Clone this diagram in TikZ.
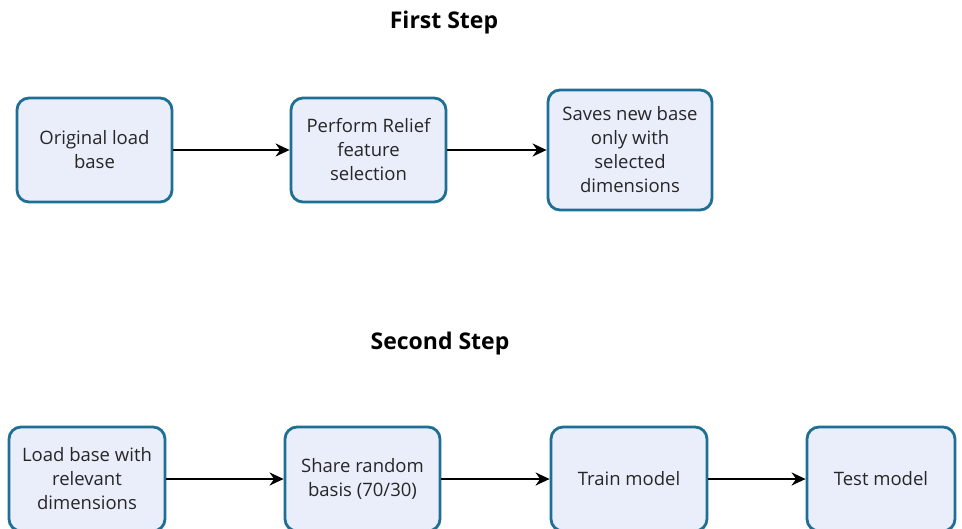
\documentclass[tikz,border=0pt]{standalone}
\usepackage{fontspec}
\setmainfont{Open Sans}
\usetikzlibrary{arrows.meta}
\definecolor{boxfill}{HTML}{EAEEFB}
\definecolor{boxline}{HTML}{1F6E94}
\tikzset{
  stepbox/.style={draw=boxline, fill=boxfill, line width=2.8pt, rounded corners=12pt,
    align=center, font=\fontsize{18.5}{24}\selectfont, inner sep=0pt, text=black!85},
  flow/.style={line width=1.9pt, -{Stealth[length=14pt,width=13pt,inset=4.5pt]}},
  heading/.style={font=\fontsize{23}{26}\selectfont\bfseries}
}
\begin{document}
\begin{tikzpicture}[x=1pt,y=-1pt]
  \useasboundingbox (0,0) rectangle (962,528);
  \clip (0,0) rectangle (962,528);
  % first step
  \node[heading] (t1) at (444,23) {First Step};
  \node[stepbox, minimum width=155pt, minimum height=104pt] (a1) at (94.5,150) {Original load\\base};
  \node[stepbox, minimum width=155pt, minimum height=104pt] (a2) at (368.5,150) {Perform Relief\\feature\\selection};
  \node[stepbox, minimum width=164pt, minimum height=120pt] (a3) at (630,150) {Saves new base\\only with\\selected\\dimensions};
  \draw[flow] (a1) -- (a2);
  \draw[flow] (a2) -- (a3);
  % second step
  \node[heading] (t2) at (440,344) {Second Step};
  \node[stepbox, minimum width=156pt, minimum height=104pt] (b1) at (87,479) {Load base with\\relevant\\dimensions};
  \node[stepbox, minimum width=155pt, minimum height=104pt] (b2) at (362.5,479) {Share random\\basis (70/30)};
  \node[stepbox, minimum width=156pt, minimum height=104pt] (b3) at (629,479) {Train model};
  \node[stepbox, minimum width=148pt, minimum height=104pt] (b4) at (881,479) {Test model};
  \draw[flow] (b1) -- (b2);
  \draw[flow] (b2) -- (b3);
  \draw[flow] (b3) -- (b4);
\end{tikzpicture}
\end{document}
